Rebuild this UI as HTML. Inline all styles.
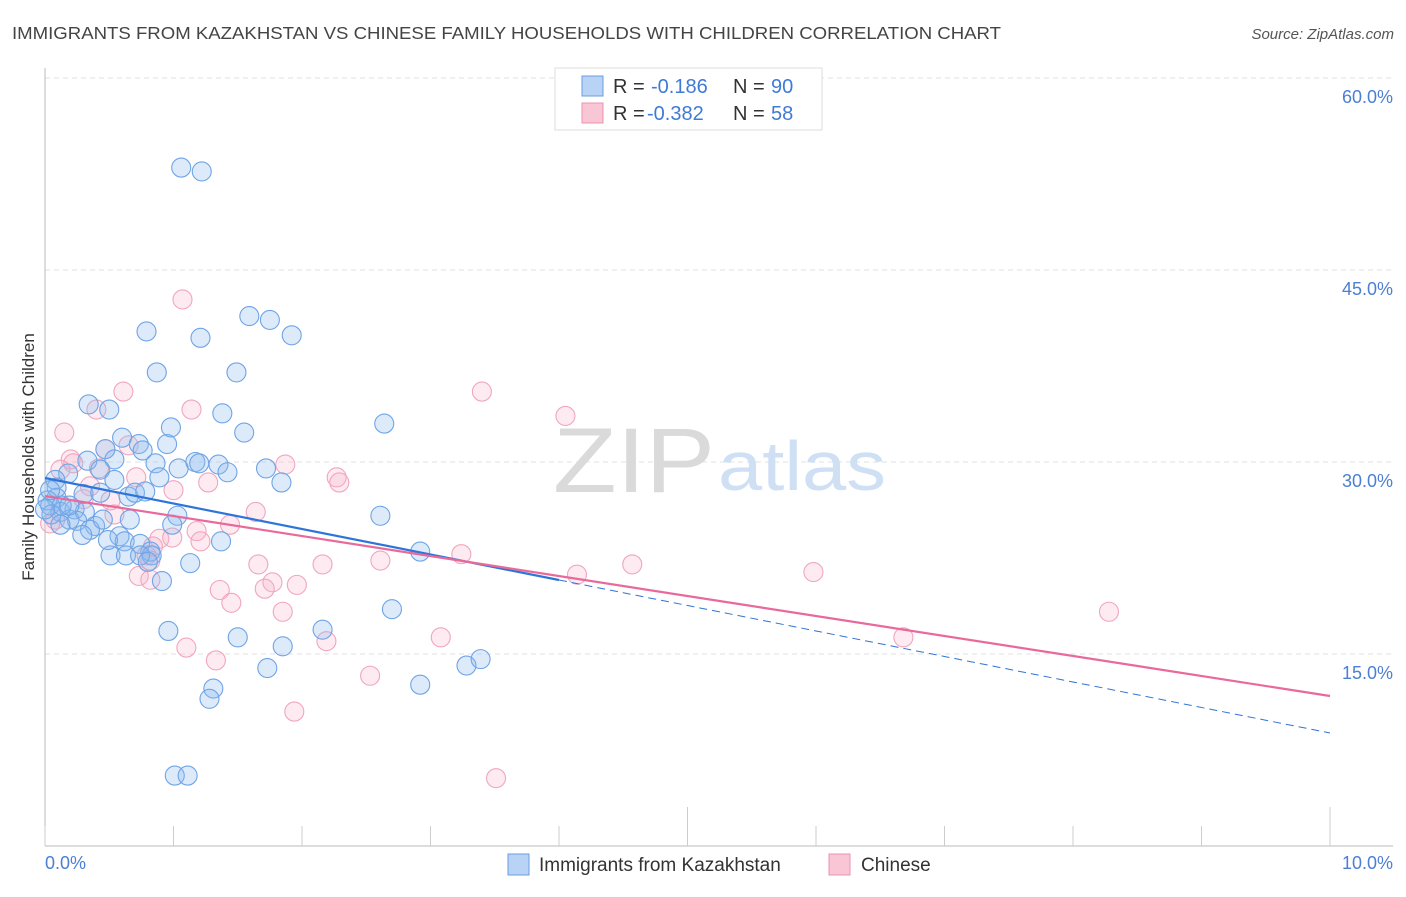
<!DOCTYPE html>
<html><head><meta charset="utf-8"><style>
body{margin:0;background:#fff;font-family:"Liberation Sans",sans-serif;}
svg text{font-family:"Liberation Sans",sans-serif;}
</style></head><body>
<svg id="chart" width="1406" height="892" viewBox="0 0 1406 892" xmlns="http://www.w3.org/2000/svg">
<text x="12" y="39" font-size="17.5" fill="#444" textLength="989" lengthAdjust="spacingAndGlyphs">IMMIGRANTS FROM KAZAKHSTAN VS CHINESE FAMILY HOUSEHOLDS WITH CHILDREN CORRELATION CHART</text>
<text x="1394" y="39" font-size="15" font-style="italic" fill="#555" text-anchor="end">Source: ZipAtlas.com</text>
<g id="grid"></g>
<g>
<text x="553" y="492" font-size="92" font-family="Liberation Serif,serif" fill="#dadada" textLength="162" lengthAdjust="spacingAndGlyphs">ZIP</text>
<text x="718" y="490" font-size="70" fill="#cfe0f4" textLength="168" lengthAdjust="spacingAndGlyphs">atlas</text>
</g>
<line x1="45" y1="68" x2="45" y2="846" stroke="#bbb" stroke-width="1"/>
<line x1="45" y1="846" x2="1393" y2="846" stroke="#bbb" stroke-width="1"/>
<g id="xticks"></g>
<g id="ylabels"></g>
<text x="45" y="869" font-size="18" fill="#4a7fd4">0.0%</text>
<text x="1393" y="869" font-size="18" fill="#4a7fd4" text-anchor="end">10.0%</text>
<text transform="translate(34,457) rotate(-90)" font-size="17" fill="#333" text-anchor="middle">Family Households with Children</text>
<g id="pts"></g>
<g id="trends"></g>
<g>
<rect x="555" y="68" width="267" height="62" fill="#fff" stroke="#ddd"/>
<rect x="582" y="76" width="21" height="20" fill="#b8d3f5" stroke="#6a9ee0"/>
<rect x="582" y="103" width="21" height="20" fill="#f9c6d5" stroke="#ec93b0"/>
<text x="613" y="93" font-size="20" fill="#333">R =</text>
<text x="651" y="93" font-size="20" fill="#3f7bd6">-0.186</text>
<text x="733" y="93" font-size="20" fill="#333">N =</text>
<text x="771" y="93" font-size="20" fill="#3f7bd6">90</text>
<text x="613" y="120" font-size="20" fill="#333">R =</text>
<text x="647" y="120" font-size="20" fill="#3f7bd6">-0.382</text>
<text x="733" y="120" font-size="20" fill="#333">N =</text>
<text x="771" y="120" font-size="20" fill="#3f7bd6">58</text>
</g>
<g>
<rect x="508" y="854" width="21" height="21" fill="#b8d3f5" stroke="#6a9ee0"/>
<text x="539" y="871" font-size="19" fill="#333">Immigrants from Kazakhstan</text>
<rect x="829" y="854" width="21" height="21" fill="#f9c6d5" stroke="#ec93b0"/>
<text x="861" y="871" font-size="19" fill="#333">Chinese</text>
</g>
</svg>
<script>
const yTicks=[15,30,45,60];
const yTickLabels=["15.0%","30.0%","45.0%","60.0%"];
const xTicks=[0,1,2,3,4,5,6,7,8,9,10];
const blueX=[1.06,1.22,1.59,1.75,1.92,0.79,1.21,0.87,1.49,0.34,0.50,1.38,1.55,2.64,0.60,0.73,0.95,0.98,0.76,0.47,0.33,0.54,0.86,1.04,1.17,1.20,1.35,1.42,1.72,1.84,0.18,0.08,0.09,0.30,0.43,0.65,0.70,0.78,0.09,0.04,0.12,0.23,0.31,0.19,0.25,0.39,0.58,0.62,0.74,0.82,0.83,0.51,0.63,1.03,0.99,1.37,2.61,2.92,1.13,0.91,2.70,0.96,1.50,2.16,1.85,1.73,3.28,3.39,2.92,1.31,1.28,1.01,1.11,0.02,0.05,0.13,0.19,0.35,0.0,0.29,0.43,0.66,0.54,0.45,0.74,0.80,0.49,0.89,0.12,0.04];
const blueY=[53.0,52.7,41.4,41.1,39.9,40.2,39.7,37.0,37.0,34.5,34.1,33.8,32.3,33.0,31.9,31.4,31.4,32.7,30.9,31.0,30.1,30.2,29.9,29.5,30.0,29.9,29.8,29.2,29.5,28.4,29.1,28.6,28.0,27.5,27.6,27.3,27.6,27.7,27.2,26.6,26.1,26.3,26.1,25.5,25.4,25.0,24.2,23.8,23.6,23.0,22.7,22.7,22.7,25.8,25.1,23.8,25.8,23.0,22.1,20.7,18.5,16.8,16.3,16.9,15.6,13.9,14.1,14.6,12.6,12.3,11.5,5.5,5.5,27.0,25.9,26.6,26.6,24.7,26.3,24.3,29.4,25.5,28.6,25.5,22.7,22.2,23.9,28.8,25.1,27.8];
const pinkX=[1.07,3.40,0.61,1.14,4.05,0.40,0.15,0.65,0.47,0.20,0.22,1.87,0.42,2.27,2.29,0.71,1.27,1.00,0.35,1.64,0.54,1.18,0.89,1.21,0.99,0.84,0.79,1.66,2.61,3.24,4.57,4.14,5.98,8.28,0.73,0.82,1.77,1.36,1.71,1.96,2.16,1.45,1.85,1.10,1.33,2.19,3.08,2.53,6.68,1.94,3.51,0.30,0.08,0.12,0.51,0.82,0.04,1.44];
const pinkY=[42.7,35.5,35.5,34.1,33.6,34.1,32.3,31.3,31.0,30.2,29.9,29.8,29.5,28.8,28.4,28.8,28.4,27.8,28.1,26.1,25.9,24.6,24.0,23.8,24.1,23.4,22.7,22.0,22.3,22.8,22.0,21.2,21.4,18.3,21.1,20.8,20.6,20.0,20.1,20.4,22.0,19.0,18.3,15.5,14.5,16.0,16.3,13.3,16.3,10.5,5.3,27.1,25.5,29.4,27.0,22.3,25.2,25.1];
const blueTrend=[28.75,8.83];
const pinkTrend=[27.34,11.72];
const blueSolidEnd=4.0;

const NS="http://www.w3.org/2000/svg";
const sx=v=>45+v*128.5;
const sy=v=>846-v*12.8;
function mk(tag,attrs,parent){const e=document.createElementNS(NS,tag);for(const k in attrs)e.setAttribute(k,attrs[k]);parent.appendChild(e);return e;}
const grid=document.getElementById('grid');
const yl=document.getElementById('ylabels');
yTicks.forEach((t,i)=>{
  const l=mk('line',{x1:45,x2:1393,y1:sy(t),y2:sy(t),stroke:'#e2e2e2','stroke-dasharray':'5,4'},grid);
  
  
  const tx=mk('text',{x:1393,y:sy(t)+25,'font-size':18,fill:'#4a7fd4','text-anchor':'end'},yl);
  tx.textContent=yTickLabels[i];
  
  
});
const xt=document.getElementById('xticks');
xTicks.forEach(t=>{
  const tall=(t===5||t===10);
  const l=mk('line',{x1:sx(t),x2:sx(t),y1:tall?807:826,y2:846,stroke:'#ccc'},xt);
  
  
});
const pts=document.getElementById('pts');
pinkX.forEach((x,i)=>{
  const c=mk('circle',{cx:sx(x),cy:sy(pinkY[i]),r:9.5,fill:'rgba(246,176,200,0.25)',stroke:'#f0a6be','stroke-width':1.1},pts);
  
  
});
blueX.forEach((x,i)=>{
  const c=mk('circle',{cx:sx(x),cy:sy(blueY[i]),r:9.5,fill:'rgba(140,185,240,0.3)',stroke:'#6fa4e6','stroke-width':1.1},pts);
  
  
});
const tr=document.getElementById('trends');
const by=x=>blueTrend[0]+(blueTrend[1]-blueTrend[0])*x/10;
let l1=mk('line',{x1:sx(0),y1:sy(blueTrend[0]),x2:sx(blueSolidEnd),y2:sy(by(blueSolidEnd)),stroke:'#2f74d8','stroke-width':2.2},tr);


let l2=mk('line',{x1:sx(blueSolidEnd),y1:sy(by(blueSolidEnd)),x2:sx(10),y2:sy(blueTrend[1]),stroke:'#2f74d8','stroke-width':1,'stroke-dasharray':'8,5'},tr);


let l3=mk('line',{x1:sx(0),y1:sy(pinkTrend[0]),x2:sx(10),y2:sy(pinkTrend[1]),stroke:'#e8699a','stroke-width':2.2},tr);


</script>
</body></html>
